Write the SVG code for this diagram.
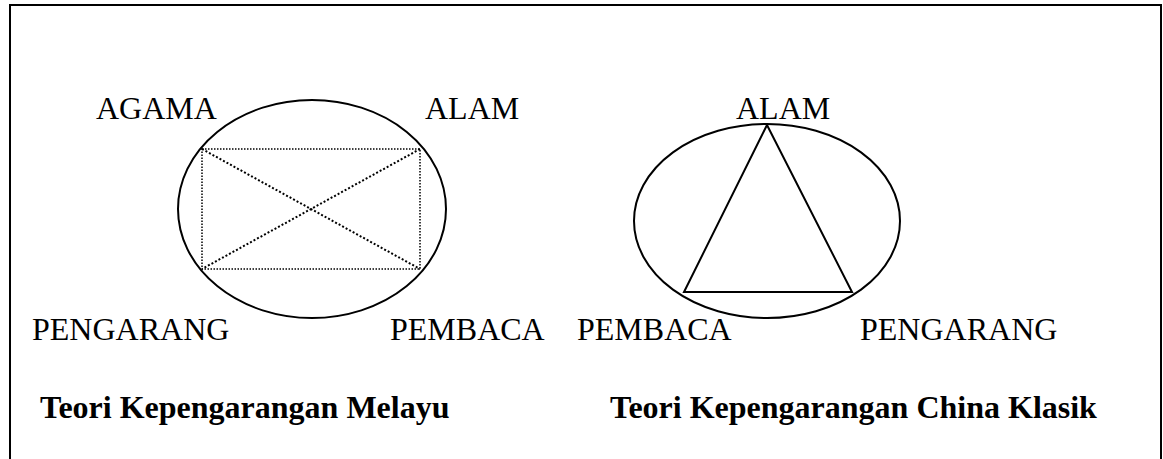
<svg xmlns="http://www.w3.org/2000/svg" width="1163" height="459" viewBox="0 0 1163 459">
<style>
.lbl{font-family:"Liberation Serif","Times New Roman",serif;font-size:32px;fill:#000}
.ttl{font-family:"Liberation Serif","Times New Roman",serif;font-size:32px;font-weight:bold;fill:#000}
.ell{fill:none;stroke:#000;stroke-width:2}
.dot{fill:none;stroke:#000;stroke-width:2;stroke-dasharray:2 2}
.dot2{fill:none;stroke:#000;stroke-width:1.5;stroke-dasharray:1.5 1.5}
</style>
<rect width="1163" height="459" fill="#fff"/>
<g id="frame" fill="none" stroke="#000" stroke-width="2">
<path d="M10,459 V5 H1161 V459"/>
</g>
<g id="melayu">
<ellipse class="ell" cx="312" cy="209" rx="134" ry="109"/>
<rect class="dot2" x="202" y="149" width="218" height="120"/>
</g>
<g id="connectors">
<line class="dot" x1="202" y1="149" x2="420" y2="269"/>
<line class="dot" x1="420" y1="149" x2="202" y2="269"/>
</g>
<g id="china">
<ellipse class="ell" cx="767" cy="221" rx="133" ry="97"/>
<polygon class="ell" points="767,125 684,292 852,292" stroke-linejoin="miter"/>
</g>
<g id="labels">
<text class="lbl" x="96" y="119">AGAMA</text>
<text class="lbl" x="425" y="119">ALAM</text>
<text class="lbl" x="32" y="340">PENGARANG</text>
<text class="lbl" x="390" y="340">PEMBACA</text>
<text class="lbl" x="736" y="119">ALAM</text>
<text class="lbl" x="577" y="340">PEMBACA</text>
<text class="lbl" x="860" y="340">PENGARANG</text>
<text class="ttl" x="40" y="418">Teori Kepengarangan Melayu</text>
<text class="ttl" x="610" y="418">Teori Kepengarangan China Klasik</text>
</g>
</svg>
